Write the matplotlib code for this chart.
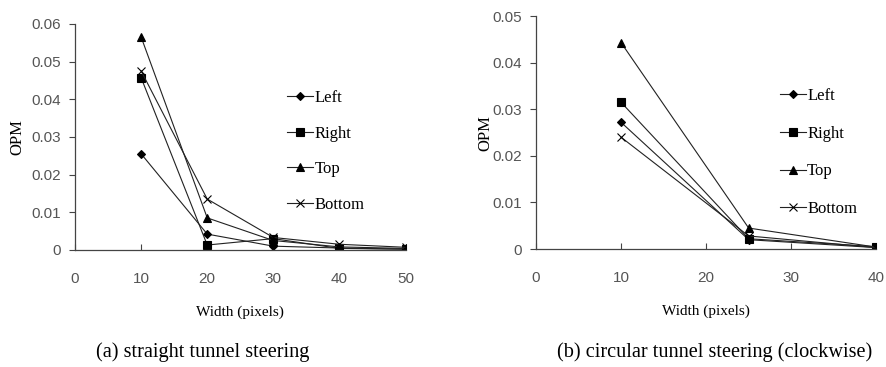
import matplotlib
matplotlib.use("Agg")
import matplotlib.pyplot as plt

# (a) straight tunnel steering
widths_a = [10, 20, 30, 40, 50]
left_a = [0.0255, 0.0042, 0.0010, 0.0005, 0.0002]
right_a = [0.0457, 0.0013, 0.0030, 0.0004, 0.0002]
top_a = [0.0565, 0.0085, 0.0025, 0.0008, 0.0004]
bottom_a = [0.0475, 0.0135, 0.0033, 0.0015, 0.0007]

# (b) circular tunnel steering (clockwise)
widths_b = [10, 25, 40]
left_b = [0.0272, 0.0020, 0.0003]
right_b = [0.0315, 0.0022, 0.0005]
top_b = [0.0443, 0.0045, 0.0004]
bottom_b = [0.0240, 0.0028, 0.0003]

labels = ["Left", "Right", "Top", "Bottom"]
markers = ["D", "s", "^", "x"]
msizes = [4.5, 6, 6, 6]

serif = "Liberation Serif"
tickfont = "Liberation Sans"

fig = plt.figure(figsize=(8.86, 3.67), dpi=100)
ax1 = fig.add_axes([0.0847, 0.319, 0.373, 0.616])
ax2 = fig.add_axes([0.605, 0.3215, 0.384, 0.6345])


def draw(ax, x, series, xmax, ymax, ystep, xstep, ylab_x, legpos, lspace):
    for ys, lab, m, ms in zip(series, labels, markers, msizes):
        ax.plot(x, ys, color="#222222", lw=0.8, marker=m, markersize=ms,
                markerfacecolor="black", markeredgecolor="black",
                markeredgewidth=0.8, label=lab)
    ax.set_xlim(0, xmax)
    ax.set_ylim(0, ymax)
    ax.set_xticks(range(0, xmax + 1, xstep))
    yt = [round(i * ystep, 2) for i in range(int(round(ymax / ystep)) + 1)]
    ax.set_yticks(yt)
    ax.set_yticklabels(["0"] + ["%.2f" % v for v in yt[1:]])
    for s in ["top", "right"]:
        ax.spines[s].set_visible(False)
    for s in ["left", "bottom"]:
        ax.spines[s].set_color("#444444")
        ax.spines[s].set_linewidth(0.9)
    ax.tick_params(axis="x", direction="in", length=4, pad=16, colors="#444444",
                   labelcolor="#555555")
    ax.tick_params(axis="y", direction="out", length=4, pad=6, colors="#444444",
                   labelcolor="#555555")
    for t in ax.get_xticklabels() + ax.get_yticklabels():
        t.set_fontfamily(tickfont)
        t.set_fontsize(11)
    ax.set_xlabel("Width (pixels)", fontfamily=serif, fontsize=11, labelpad=14)
    ax.set_ylabel("OPM", fontfamily=serif, fontsize=12)
    ax.yaxis.set_label_coords(ylab_x, 0.5)
    fig.legend(*ax.get_legend_handles_labels(), loc="upper left",
               bbox_to_anchor=legpos, bbox_transform=fig.transFigure,
               frameon=False, prop={"family": serif, "size": 12},
               labelspacing=lspace, handlelength=1.55, handletextpad=0.1,
               borderaxespad=0, borderpad=0)


draw(ax1, widths_a, [left_a, right_a, top_a, bottom_a], 50, 0.06, 0.01, 10,
     -0.151, (0.324, 0.755), 1.18)
draw(ax2, widths_b, [left_b, right_b, top_b, bottom_b], 40, 0.05, 0.01, 10,
     -0.124, (0.880, 0.760), 1.3)

fig.text(0.229, 0.041, "(a) straight tunnel steering", fontfamily=serif,
         fontsize=14.6, ha="center", va="center")
fig.text(0.807, 0.041, "(b) circular tunnel steering (clockwise)",
         fontfamily=serif, fontsize=14.6, ha="center", va="center")

fig.savefig("out.png", dpi=100)
